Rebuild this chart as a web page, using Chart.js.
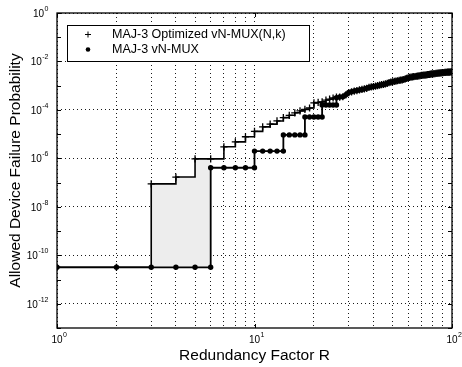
<!DOCTYPE html>
<html><head><meta charset="utf-8">
<script src="https://cdn.jsdelivr.net/npm/chart.js@4/dist/chart.umd.min.js"></script>
<style>html,body{margin:0;padding:0;background:#fff;}canvas{display:block;}</style>
</head><body>
<canvas id="c" width="462" height="367"></canvas>
<script>
// ---------- data ----------
const seriesNames = ['MAJ-3 Optimized vN-MUX(N,k)', 'MAJ-3 vN-MUX'];
const xTitle = 'Redundancy Factor R';
const yTitle = 'Allowed Device Failure Probability';

// optimized vN-MUX(N,k) : R = 1..26
const optHeadR = [1,2,3,4,5,6,7,8,9,10,11,12,13,14,15,16,17,18,19,20,21,22,23,24,25,26];
const optHeadP = [3.2e-11,3.2e-11,8.9e-8,1.7e-7,9.5e-7,9.5e-7,3.0e-6,4.8e-6,7.8e-6,1.3e-5,
                  2.0e-5,2.6e-5,3.5e-5,4.8e-5,6.0e-5,7.6e-5,9.1e-5,1.05e-4,1.2e-4,1.95e-4,
                  2.05e-4,2.15e-4,2.55e-4,2.8e-4,3.1e-4,3.4e-4];

// plain vN-MUX : stair corners (jumps carry a marker at both levels)
const dotHeadR = [1,2,3,4,5,6,6,7,8,9,10,10,11,12,13,14,14,15,16,17,18,18,19,20,21,22,22,23,24,25,26,26];
const dotHeadP = [3.2e-11,3.2e-11,3.2e-11,3.2e-11,3.2e-11,3.2e-11,4.1e-7,4.1e-7,4.1e-7,4.1e-7,
                  4.1e-7,2.0e-6,2.0e-6,2.0e-6,2.0e-6,2.0e-6,9.3e-6,9.3e-6,9.3e-6,9.3e-6,
                  9.3e-6,5.1e-5,5.1e-5,5.1e-5,5.1e-5,5.1e-5,1.6e-4,1.6e-4,1.6e-4,1.6e-4,
                  1.6e-4,3.2e-4];

// common tail where both curves coincide : R = 27..100
const tailR = [27,28,29,30,31,32,33,34,35,36,37,38,39,40,41,42,43,44,45,46,47,48,49,50,
               51,52,53,54,55,56,57,58,59,60,61,62,63,64,65,66,67,68,69,70,71,72,73,74,75,
               76,77,78,79,80,81,82,83,84,85,86,87,88,89,90,91,92,93,94,95,96,97,98,99,100];
const tailP = [3.4e-4,3.5e-4,4.2e-4,5.2e-4,5.6e-4,6.0e-4,6.3e-4,6.7e-4,7.0e-4,7.4e-4,
               7.8e-4,8.5e-4,8.9e-4,9.2e-4,9.6e-4,1.0e-3,1.05e-3,1.1e-3,1.13e-3,1.18e-3,
               1.25e-3,1.35e-3,1.4e-3,1.45e-3,1.5e-3,1.55e-3,1.6e-3,1.65e-3,1.7e-3,1.75e-3,
               1.8e-3,1.9e-3,2.0e-3,2.1e-3,2.2e-3,2.25e-3,2.3e-3,2.35e-3,2.4e-3,2.45e-3,
               2.5e-3,2.55e-3,2.6e-3,2.65e-3,2.7e-3,2.72e-3,2.75e-3,2.8e-3,2.85e-3,2.9e-3,
               2.95e-3,3.0e-3,3.05e-3,3.1e-3,3.12e-3,3.15e-3,3.2e-3,3.25e-3,3.3e-3,3.33e-3,
               3.36e-3,3.4e-3,3.43e-3,3.46e-3,3.5e-3,3.52e-3,3.55e-3,3.58e-3,3.6e-3,3.63e-3,
               3.66e-3,3.68e-3,3.7e-3,3.72e-3];

// shaded gap between the two curves
const shadeFrom = 3, shadeTo = 6;
const shadeBase = 3.2e-11;

// axis ticks
const xGridTicks = [1,2,3,4,5,6,7,8,9,10,20,30,40,50,60,70,80,90,100];
const xLabelTicks = [1,10,100];
const yGridTicks = [1e0,1e-2,1e-4,1e-6,1e-8,1e-10,1e-12];
const yLabelTicks = [1e0,1e-2,1e-4,1e-6,1e-8,1e-10,1e-12];
const yMinorTicks = [1e0,1e-1,1e-2,1e-3,1e-4,1e-5,1e-6,1e-7,1e-8,1e-9,1e-10,1e-11,1e-12,1e-13];

// ---------- build ----------
const pts = (rs, ps) => rs.map((r, i) => ({x: r, y: ps[i]}));
const optR = optHeadR.concat(tailR), optP = optHeadP.concat(tailP);
const dotR = dotHeadR.concat(tailR), dotP = dotHeadP.concat(tailP);
const shadePts = pts(optHeadR, optHeadP).filter(p => p.x >= shadeFrom && p.x <= shadeTo);

const FONT = '"Liberation Sans", Arial, Helvetica, sans-serif';

const decor = {
  id: 'decor',
  beforeDraw(chart) {
    const ctx = chart.ctx;
    ctx.save(); ctx.fillStyle = '#fff'; ctx.fillRect(0, 0, chart.width, chart.height); ctx.restore();
  },
  afterDraw(chart) {
    const {ctx, chartArea: a, scales: {x, y}} = chart;
    ctx.save();
    // frame
    ctx.strokeStyle = '#000'; ctx.lineWidth = 1.3; ctx.setLineDash([]);
    ctx.strokeRect(a.left, a.top, a.right - a.left, a.bottom - a.top);
    // inner tick marks
    ctx.lineWidth = 1;
    ctx.beginPath();
    yMinorTicks.forEach(v => {
      const py = Math.round(y.getPixelForValue(v)) + 0.5;
      ctx.moveTo(a.left, py); ctx.lineTo(a.left + 4, py);
      ctx.moveTo(a.right, py); ctx.lineTo(a.right - 4, py);
    });
    xLabelTicks.forEach(v => {
      const px = Math.round(x.getPixelForValue(v)) + 0.5;
      ctx.moveTo(px, a.bottom); ctx.lineTo(px, a.bottom - 4);
      ctx.moveTo(px, a.top); ctx.lineTo(px, a.top + 4);
    });
    ctx.stroke();

    // tick labels 10^k
    ctx.fillStyle = '#000'; ctx.textAlign = 'left'; ctx.textBaseline = 'middle';
    const big = '10px ' + FONT, small = '7px ' + FONT;
    yLabelTicks.forEach(v => {
      const py = y.getPixelForValue(v);
      const e = String(Math.round(Math.log10(v)));
      ctx.font = big; const w1 = ctx.measureText('10').width;
      ctx.font = small; const w2 = ctx.measureText(e).width;
      const x0 = a.left - 9 - w1 - w2;
      ctx.font = big; ctx.fillText('10', x0, py + 1);
      ctx.font = small; ctx.fillText(e, x0 + w1 + 0.5, py - 4);
    });
    xLabelTicks.forEach(v => {
      const px = x.getPixelForValue(v);
      const e = String(Math.round(Math.log10(v)));
      ctx.font = big; const w1 = ctx.measureText('10').width;
      const x0 = px - w1 / 2;
      ctx.fillText('10', x0, a.bottom + 12);
      ctx.font = small; ctx.fillText(e, x0 + w1 + 0.5, a.bottom + 7);
    });

    // legend box
    const lx = 67, ly = 25, lw = 242, lh = 36;
    ctx.fillStyle = '#fff'; ctx.fillRect(lx, ly, lw, lh);
    ctx.strokeStyle = '#000'; ctx.lineWidth = 1; ctx.strokeRect(lx + 0.5, ly + 0.5, lw, lh);
    const ds = chart.data.datasets;
    const rows = [ds[0], ds[1]];
    rows.forEach((d, i) => {
      const cy = ly + 9.5 + i * 15;
      const mx = 88;
      ctx.strokeStyle = '#000'; ctx.fillStyle = '#000';
      if (d.pointStyle === 'cross') {
        ctx.lineWidth = 1; ctx.beginPath();
        ctx.moveTo(mx - 3, cy); ctx.lineTo(mx + 3, cy);
        ctx.moveTo(mx, cy - 3); ctx.lineTo(mx, cy + 3); ctx.stroke();
      } else {
        ctx.beginPath(); ctx.arc(mx, cy, 2.3, 0, Math.PI * 2); ctx.fill();
      }
      ctx.font = '12.5px ' + FONT; ctx.textBaseline = 'middle';
      ctx.fillText(d.label, 112, cy);
    });
    ctx.restore();
  }
};

new Chart(document.getElementById('c'), {
  type: 'line',
  data: {
    datasets: [
      {
        label: seriesNames[0], data: pts(optR, optP), stepped: 'before',
        borderColor: '#000', borderWidth: 1.6, backgroundColor: '#000',
        pointStyle: 'cross', pointRadius: 3.6, pointBorderWidth: 1.3, pointBorderColor: '#000',
        fill: false, order: 1
      },
      {
        label: seriesNames[1], data: pts(dotR, dotP),
        borderColor: '#000', borderWidth: 1.8, backgroundColor: '#000',
        pointStyle: 'circle', pointRadius: 2.7, pointBorderWidth: 0, pointBackgroundColor: '#000',
        fill: false, order: 2
      },
      {
        label: 'gap', data: shadePts, stepped: 'before',
        borderWidth: 0, borderColor: 'rgba(0,0,0,0)', pointRadius: 0,
        backgroundColor: '#ededed', fill: {value: shadeBase}, order: 10
      }
    ]
  },
  options: {
    responsive: false, animation: false,
    layout: {padding: {top: 13, right: 10, left: 0, bottom: 0}},
    plugins: {legend: {display: false}, tooltip: {enabled: false}},
    scales: {
      x: {
        type: 'logarithmic', min: 1, max: 100,
        afterBuildTicks: s => { s.ticks = xGridTicks.map(v => ({value: v})); },
        afterFit: s => { s.height = 39; },
        ticks: {display: false},
        grid: {color: '#000', lineWidth: 0.9, drawTicks: false},
        border: {display: false, dash: [1, 3]},
        title: {display: true, text: xTitle, color: '#000', font: {family: FONT, size: 15.5}, padding: {top: 0, bottom: 2}}
      },
      y: {
        type: 'logarithmic', min: 1e-13, max: 1,
        afterBuildTicks: s => { s.ticks = yGridTicks.map(v => ({value: v})); },
        afterFit: s => { s.width = 57; },
        ticks: {display: false},
        grid: {color: '#000', lineWidth: 0.9, drawTicks: false},
        border: {display: false, dash: [1, 3]},
        title: {display: true, text: yTitle, color: '#000', font: {family: FONT, size: 15.5}, padding: {top: 6, bottom: 0}}
      }
    }
  },
  plugins: [decor]
});
</script>
</body></html>
